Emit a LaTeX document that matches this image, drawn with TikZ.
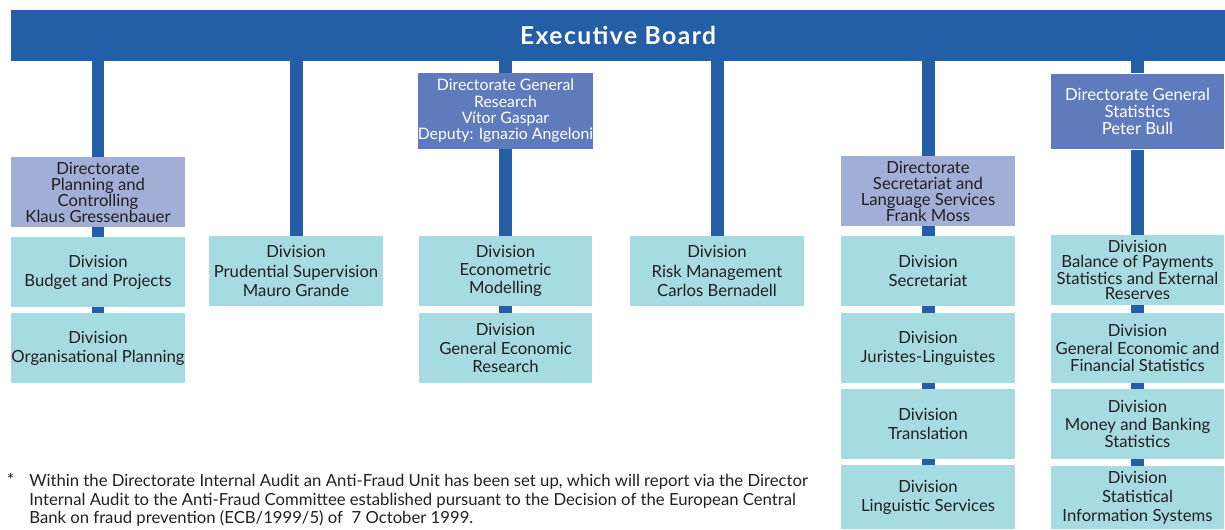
\documentclass[tikz,border=0pt]{standalone}
\usepackage{fontspec}
\setmainfont{Lato}

\definecolor{ecbblue}{RGB}{35,94,166}
\definecolor{dgblue}{RGB}{96,123,187}
\definecolor{dirlav}{RGB}{161,174,214}
\definecolor{divcyan}{RGB}{166,220,225}
\definecolor{inkgrey}{RGB}{35,31,32}

\begin{document}
\begin{tikzpicture}[x=0.02cm, y=-0.02cm,
    box/.style={minimum width=3.48cm, minimum height=1.4cm, inner sep=0pt,
        align=center, text=inkgrey, font=\fontsize{9.5}{10.9}\selectfont},
    division/.style={box, fill=divcyan},
    directorate/.style={box, fill=dirlav, font=\fontsize{9.5}{9.1}\selectfont},
    general/.style={box, fill=dgblue, text=white, minimum height=1.51cm,
        font=\fontsize{9.5}{9.6}\selectfont},
    board/.style={fill=ecbblue, text=white, minimum width=24.28cm,
        minimum height=1.02cm, inner sep=0pt,
        font=\bfseries\fontsize{14}{16}\selectfont\addfontfeatures{LetterSpace=6}},
    link/.style={draw=ecbblue, line width=0.26cm}]

    \useasboundingbox (0,0) rectangle (1225,529);

    % Executive Board
    \node[board] (board) at (618,35.5) {Executive Board};

    % Column 1
    \node[directorate] (dirPlan) at (98,192) {Directorate\\Planning and\\Controlling\\Klaus Gressenbauer};
    \node[division] (divBudget) at (98,272) {Division\\Budget and Projects};
    \node[division] (divOrg) at (98,348) {Division\\Organisational Planning};

    % Column 2
    \node[division] (divPrud) at (296,271) {Division\\Prudential Supervision\\Mauro Grande};

    % Column 3
    \node[general, font=\fontsize{9}{9.3}\selectfont] (dgRes) at (505.5,111) {Directorate General\\Research\\Vítor Gaspar\\Deputy: Ignazio Angeloni};
    \node[division, font=\fontsize{9.5}{10.4}\selectfont] (divEcon) at (505.5,271) {Division\\Econometric\\Modelling};
    \node[division, font=\fontsize{9.5}{10.4}\selectfont] (divGenRes) at (505.5,348) {Division\\General Economic\\Research};

    % Column 4
    \node[division] (divRisk) at (717,271) {Division\\Risk Management\\Carlos Bernadell};

    % Column 5
    \node[directorate] (dirSec) at (928,191) {Directorate\\Secretariat and\\Language Services\\Frank Moss};
    \node[division] (divSec) at (928,271) {Division\\Secretariat};
    \node[division] (divJur) at (928,348) {Division\\Juristes-Linguistes};
    \node[division] (divTrans) at (928,424) {Division\\Translation};
    \node[division, minimum height=1.28cm] (divLing) at (928,497) {Division\\Linguistic Services};

    % Column 6
    \node[general] (dgStat) at (1137.5,111.5) {Directorate General\\Statistics\\Peter Bull};
    \node[division, font=\fontsize{9.5}{8.5}\selectfont] (divBop) at (1137.5,270) {Division\\Balance of Payments\\Statistics and External\\Reserves};
    \node[division, font=\fontsize{9.5}{10.2}\selectfont] (divGef) at (1137.5,348) {Division\\General Economic and\\Financial Statistics};
    \node[division, font=\fontsize{9.5}{9.9}\selectfont] (divMon) at (1137.5,424) {Division\\Money and Banking\\Statistics};
    \node[division, minimum height=1.26cm] (divSis) at (1137.5,497.5) {Division\\Statistical\\Information Systems};

    % Links from the board
    \foreach \n in {dirPlan,divPrud,dgRes,divRisk,dirSec,dgStat}
        \draw[link] (board.south -| \n.north) -- (\n.north);

    % Links within the columns
    \foreach \a/\b in {dirPlan/divBudget, divBudget/divOrg, dgRes/divEcon,
        divEcon/divGenRes, dirSec/divSec, divSec/divJur, divJur/divTrans,
        divTrans/divLing, dgStat/divBop, divBop/divGef, divGef/divMon, divMon/divSis}
        \draw[link] (\a.south) -- (\b.north);

    % Footnote
    \node[anchor=base, text=inkgrey, inner sep=0pt, font=\fontsize{10}{11}\selectfont] (star) at (10.5,486) {*};
    \node[anchor=north west, align=left, text=inkgrey, inner sep=0pt,
        font=\fontsize{9.5}{10.5}\selectfont] (note) at (29,474)
        {Within the Directorate Internal Audit an Anti-Fraud Unit has been set up, which will report via the Director\\
         Internal Audit to the Anti-Fraud Committee established pursuant to the Decision of the European Central\\
         Bank on fraud prevention (ECB/1999/5) of\ \ 7 October 1999.};

\end{tikzpicture}
\end{document}
